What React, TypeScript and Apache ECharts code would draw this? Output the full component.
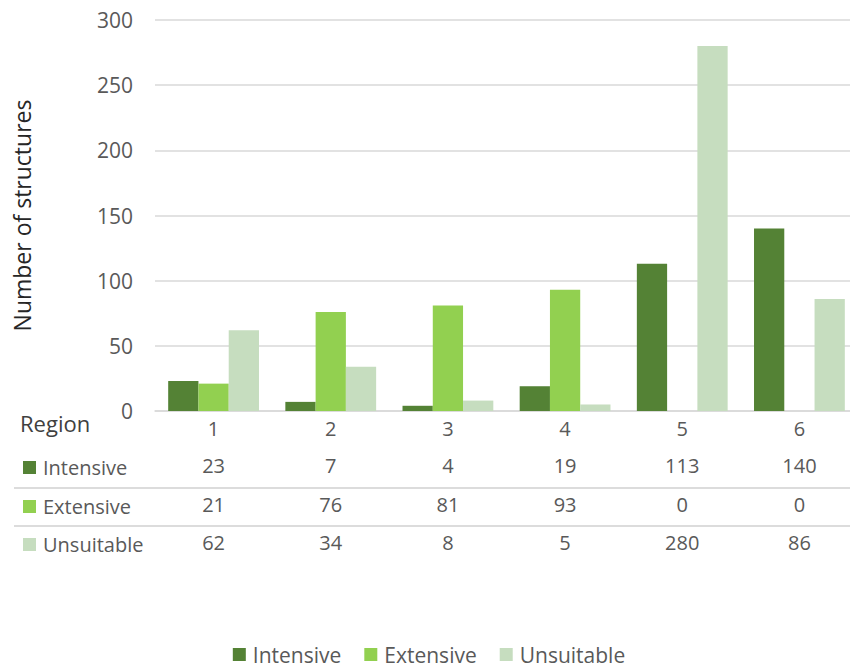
import React, { useEffect, useRef } from "react";
import * as echarts from "echarts";

const categories = ["1", "2", "3", "4", "5", "6"];
const intensive = [23, 7, 4, 19, 113, 140];
const extensive = [21, 76, 81, 93, 0, 0];
const unsuitable = [62, 34, 8, 5, 280, 86];
const seriesNames = ["Intensive", "Extensive", "Unsuitable"];
const colors = ["#548235", "#92D050", "#C6DDBF"];
const yTicks = { min: 0, max: 300, interval: 50 };

const FONT = "'Open Sans', sans-serif";
const TXT = "#595959";

export default function App() {
  const ref = useRef<HTMLDivElement>(null);
  useEffect(() => {
    if (!ref.current) return;
    const chart = echarts.init(ref.current, undefined, { renderer: "svg" });
    const seriesData = [intensive, extensive, unsuitable];
    const rowOffsets = [37, 76, 114];
    const rowY = [467, 506, 544];

    const valueAxes = seriesData.map((vals, i) => ({
      type: "category",
      gridIndex: 0,
      position: "bottom",
      offset: rowOffsets[i],
      data: vals.map(String),
      axisLine: { show: false },
      axisTick: { show: false },
      splitLine: { show: false },
      axisLabel: { color: TXT, fontSize: 20, fontFamily: FONT, margin: 7, interval: 0 },
    }));

    const graphics: any[] = [
      {
        type: "text",
        x: 20,
        y: 423,
        style: { text: "Region", fill: "#404040", fontSize: 22, fontFamily: FONT, verticalAlign: "middle" },
      },
    ];
    seriesNames.forEach((name, i) => {
      graphics.push({
        type: "rect",
        shape: { x: 23, y: rowY[i] - 6, width: 13, height: 13 },
        style: { fill: colors[i] },
      });
      graphics.push({
        type: "text",
        x: 43,
        y: rowY[i],
        style: { text: name, fill: TXT, fontSize: 20, fontFamily: FONT, verticalAlign: "middle" },
      });
    });
    [488, 526].forEach((y) => {
      graphics.push({
        type: "line",
        shape: { x1: 14, y1: y, x2: 858, y2: y },
        style: { stroke: "#D0D0D0", lineWidth: 1.5 },
      });
    });

    chart.setOption({
      animation: false,
      textStyle: { fontFamily: FONT },
      grid: { left: 155, top: 20, bottom: 258, width: 706 },
      legend: {
        data: seriesNames,
        bottom: -1,
        left: "center",
        itemWidth: 13,
        itemHeight: 13,
        itemGap: 23,
        icon: "rect",
        textStyle: { color: TXT, fontSize: 21, fontFamily: FONT, padding: [0, 0, 0, 2] },
      },
      xAxis: [
        {
          type: "category",
          data: categories,
          axisLine: { lineStyle: { color: "#D9D9D9", width: 1.5 } },
          axisTick: { show: false },
          axisLabel: { color: TXT, fontSize: 20, fontFamily: FONT, margin: 7 },
        },
        ...valueAxes,
      ],
      yAxis: {
        type: "value",
        min: yTicks.min,
        max: yTicks.max,
        interval: yTicks.interval,
        name: "Number of structures",
        nameLocation: "middle",
        nameGap: 122,
        nameTextStyle: { color: "#262626", fontSize: 23, fontFamily: FONT },
        axisLine: { show: false },
        axisTick: { show: false },
        axisLabel: { color: TXT, fontSize: 21, fontFamily: FONT, margin: 22 },
        splitLine: { lineStyle: { color: "#D9D9D9", width: 1.5 } },
      },
      graphic: graphics,
      series: seriesData.map((vals, i) => ({
        name: seriesNames[i],
        type: "bar",
        xAxisIndex: 0,
        data: vals,
        barGap: "0%",
        barCategoryGap: "22.5%",
        itemStyle: { color: colors[i] },
      })),
    });
    return () => chart.dispose();
  }, []);
  return <div ref={ref} style={{ width: 858, height: 669, marginLeft: -8, marginTop: -8 }} />;
}
